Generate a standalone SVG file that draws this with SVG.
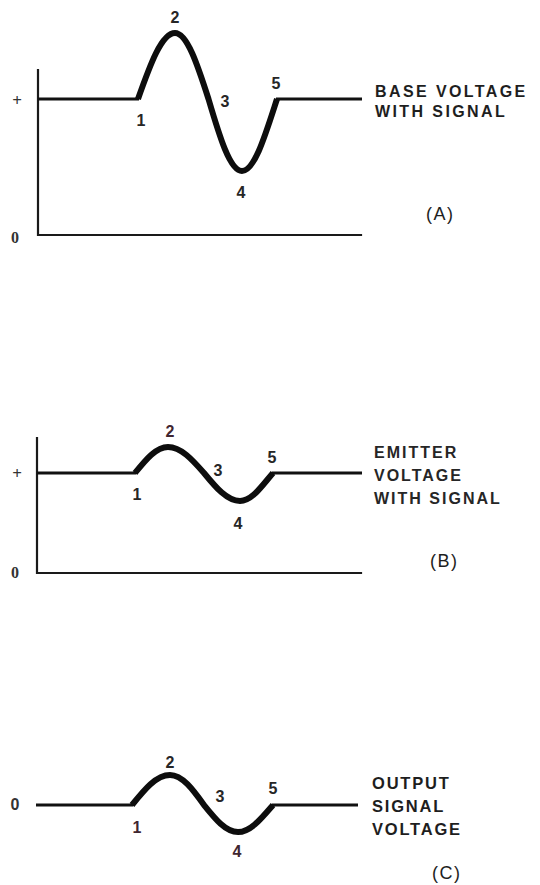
<svg xmlns="http://www.w3.org/2000/svg" width="540" height="885" viewBox="0 0 540 885">
  <style>
    .axis { fill: none; stroke: #1a1a1a; stroke-width: 2.2; stroke-linecap: square; }
    .base { fill: none; stroke: #111; stroke-width: 3; stroke-linecap: butt; }
    .wave { fill: none; stroke: #0d0d0d; stroke-width: 6; stroke-linecap: butt; stroke-linejoin: round; }
    .num { font-family: "Liberation Sans", Arial, sans-serif; font-weight: bold; font-size: 16px; fill: #262626; text-anchor: middle; }
    .numr { fill: #3f2630; }
    .plus { font-family: "Liberation Serif", serif; font-weight: bold; font-size: 17px; fill: #333; text-anchor: middle; }
    .zero { font-family: "Liberation Serif", serif; font-weight: bold; font-size: 16px; fill: #333; text-anchor: middle; }
    .cap { font-family: "Liberation Sans", Arial, sans-serif; font-weight: bold; font-size: 16px; letter-spacing: 2.4px; fill: #1e1e1e; }
    .capb { font-family: "Liberation Sans", Arial, sans-serif; font-weight: bold; font-size: 16px; letter-spacing: 2px; fill: #262626; }
    .capc { font-family: "Liberation Sans", Arial, sans-serif; font-weight: bold; font-size: 16.5px; letter-spacing: 1.8px; fill: #1e1e1e; }
    .tag { font-family: "Liberation Sans", Arial, sans-serif; font-size: 18px; letter-spacing: 1.5px; fill: #1e1e1e; }
  </style>

  <g id="panel-a">
    <path class="axis" d="M38,70 V235 H361"/>
    <path class="base" d="M38,99 H139 M276,99 H362"/>
    <path class="wave" d="M138,99 C150,65 161.6,33 175,33 C187.1,33 197.6,65 208.5,99 C219.4,136 229.9,171 242,171 C254.7,171 265.6,134 277,99"/>
    <text class="plus" x="17" y="106">+</text>
    <text class="zero" x="15" y="243">0</text>
    <text class="num" x="141" y="126">1</text>
    <text class="num" x="175" y="23">2</text>
    <text class="num" x="225" y="107">3</text>
    <text class="num" x="241" y="198">4</text>
    <text class="num" x="276" y="89">5</text>
    <text class="cap" x="375" y="97">BASE VOLTAGE</text>
    <text class="cap" x="375" y="117">WITH SIGNAL</text>
    <text class="tag" x="426" y="220">(A)</text>
  </g>

  <g id="panel-b">
    <path class="axis" d="M37,438 V573 H361"/>
    <path class="base" d="M37,473 H136 M272,473 H362"/>
    <path class="wave" d="M135,473 C145.8,459.7 156.1,447 168,447 C181,447 192.3,459.7 204,473 C215.7,487.3 227,501 240,501 C252,501 261.1,486.7 273,473"/>
    <text class="plus" x="17" y="479">+</text>
    <text class="zero" x="15" y="578">0</text>
    <text class="num" x="137" y="500">1</text>
    <text class="num numr" x="170" y="437">2</text>
    <text class="num" x="218" y="476">3</text>
    <text class="num" x="238" y="529">4</text>
    <text class="num" x="272" y="463">5</text>
    <text class="capb" x="374" y="458">EMITTER</text>
    <text class="capb" x="374" y="481">VOLTAGE</text>
    <text class="capb" x="374" y="504">WITH SIGNAL</text>
    <text class="tag" x="430" y="567">(B)</text>
  </g>

  <g id="panel-c">
    <path class="base" d="M36,805 H133 M272,805 H358"/>
    <path class="wave" d="M132,805 C144.4,789.6 156.2,775 170,775 C182.3,775 192.9,789.6 204,805 C215.1,818.8 225.7,832 238,832 C250.7,832 261.6,818.2 273,805"/>
    <text class="zero" x="15" y="810" style="font-family:'Liberation Sans',Arial,sans-serif">0</text>
    <text class="num numr" x="137" y="833">1</text>
    <text class="num" x="170" y="768">2</text>
    <text class="num" x="220" y="802">3</text>
    <text class="num numr" x="237" y="857">4</text>
    <text class="num" x="273" y="794">5</text>
    <text class="capc" x="372" y="789">OUTPUT</text>
    <text class="capc" x="372" y="812">SIGNAL</text>
    <text class="capc" x="372" y="835">VOLTAGE</text>
    <text class="tag" x="432" y="879">(C)</text>
  </g>
</svg>
